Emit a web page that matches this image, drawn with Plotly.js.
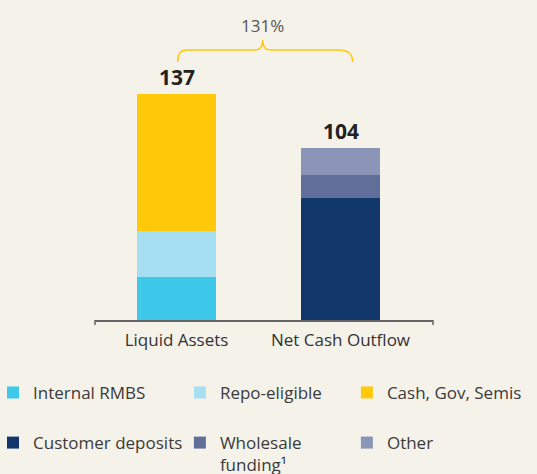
<!DOCTYPE html>
<html>
<head>
<meta charset="utf-8">
<script src="https://cdn.plot.ly/plotly-3.0.1.min.js"></script>
<style>
html,body{margin:0;padding:0;background:#f5f2ea;}
#chart{width:537px;height:474px;}
</style>
</head>
<body>
<div id="chart"></div>
<script>
// ---- data ----
const categories = ['Liquid Assets', 'Net Cash Outflow'];
const internalRMBS = [26];
const repoEligible = [28];
const cashGovSemis = [83];
const customerDeposits = [74];
const wholesaleFunding = [14];
const otherOutflow = [16];
const seriesNames = ['Internal RMBS', 'Repo-eligible', 'Cash, Gov, Semis',
                     'Customer deposits', 'Wholesale<br>funding¹', 'Other'];
const ratioLabel = '131%';

const colors = ['#3ec8ea', '#a7dff2', '#ffc90a', '#12376b', '#5f6f9a', '#8a95b8'];
const font = 'Open Sans, sans-serif';

const liquidTotal = internalRMBS[0] + repoEligible[0] + cashGovSemis[0];
const outflowTotal = customerDeposits[0] + wholesaleFunding[0] + otherOutflow[0];

function bar(cat, vals, i, legendId) {
  return {
    type: 'bar', x: [cat], y: vals, name: seriesNames[i],
    marker: {color: colors[i], line: {width: 0}},
    legend: legendId, legendgroup: 'g' + i,
    hoverinfo: 'skip'
  };
}

const data = [
  bar(categories[0], internalRMBS, 0, 'legend'),
  bar(categories[0], repoEligible, 1, 'legend2'),
  bar(categories[0], cashGovSemis, 2, 'legend3'),
  bar(categories[1], customerDeposits, 3, 'legend'),
  bar(categories[1], wholesaleFunding, 4, 'legend2'),
  bar(categories[1], otherOutflow, 5, 'legend3')
];

// brace geometry (in axis units relative to categories & totals)
const bTop = Math.max(liquidTotal, outflowTotal);
const yEnd = bTop + 19.1, yMid = bTop + 26.3, yPeak = bTop + 32.4;
const xL = 0.007, xR = 1.074, xC = 0.526;
const bracePath = `M ${xL},${yEnd} Q ${xL},${yMid} ${xL+0.055},${yMid} L ${xC-0.047},${yMid} Q ${xC},${yMid} ${xC},${yPeak} Q ${xC},${yMid} ${xC+0.044},${yMid} L ${xR-0.086},${yMid} Q ${xR},${yMid} ${xR},${yEnd}`;

const legendCommon = {
  orientation: 'v', xref: 'container', yref: 'container',
  xanchor: 'left', yanchor: 'top', bgcolor: 'rgba(0,0,0,0)',
  font: {family: font, size: 17, color: '#3a3a3a'},
  traceorder: 'grouped', tracegroupgap: 25, valign: 'top', itemclick: false
};

const layout = {
  width: 537, height: 474,
  paper_bgcolor: '#f5f2ea', plot_bgcolor: '#f5f2ea',
  margin: {l: 95, r: 104, t: 20, b: 154, autoexpand: false},
  barmode: 'stack', bargap: 0.518,
  font: {family: font, color: '#333'},
  xaxis: {
    type: 'category', categoryorder: 'array', categoryarray: categories,
    range: [-0.497, 1.564], showline: true, linecolor: '#666', linewidth: 1.5,
    ticks: '', showgrid: false, zeroline: false, fixedrange: true, automargin: false,
    ticklabelstandoff: 4,
    tickfont: {family: font, size: 17, color: '#333'}
  },
  yaxis: {range: [0, 181.5], visible: false, showgrid: false, zeroline: false, fixedrange: true, automargin: false},
  showlegend: true,
  legend: Object.assign({}, legendCommon, {x: 0, y: 0.209, indentation: -7}),
  legend2: Object.assign({}, legendCommon, {x: 0.335, y: 0.209}),
  legend3: Object.assign({}, legendCommon, {x: 0.646, y: 0.209}),
  shapes: [
    {type: 'line', xref: 'paper', yref: 'paper', x0: 0, x1: 0, ysizemode: 'pixel', yanchor: 0, y0: 0, y1: -5,
     line: {color: '#666', width: 1.5}},
    {type: 'line', xref: 'paper', yref: 'paper', x0: 1, x1: 1, ysizemode: 'pixel', yanchor: 0, y0: 0, y1: -5,
     line: {color: '#666', width: 1.5}},
    {type: 'path', xref: 'x', yref: 'y', path: bracePath, line: {color: '#ffc90a', width: 1.5}}
  ],
  annotations: [
    {x: 0, y: liquidTotal, xref: 'x', yref: 'y', text: '<b>' + liquidTotal + '</b>', showarrow: false,
     yanchor: 'bottom', yshift: 1, font: {family: font, size: 21, color: '#222'}},
    {x: 1, y: outflowTotal, xref: 'x', yref: 'y', text: '<b>' + outflowTotal + '</b>', showarrow: false,
     yanchor: 'bottom', yshift: 1, font: {family: font, size: 21, color: '#222'}},
    {x: xC, y: yPeak, xref: 'x', yref: 'y', text: ratioLabel, showarrow: false,
     yanchor: 'bottom', yshift: 1, font: {family: font, size: 17, color: '#555'}}
  ]
};

Plotly.newPlot('chart', data, layout, {staticPlot: true, displayModeBar: false});
</script>
</body>
</html>
